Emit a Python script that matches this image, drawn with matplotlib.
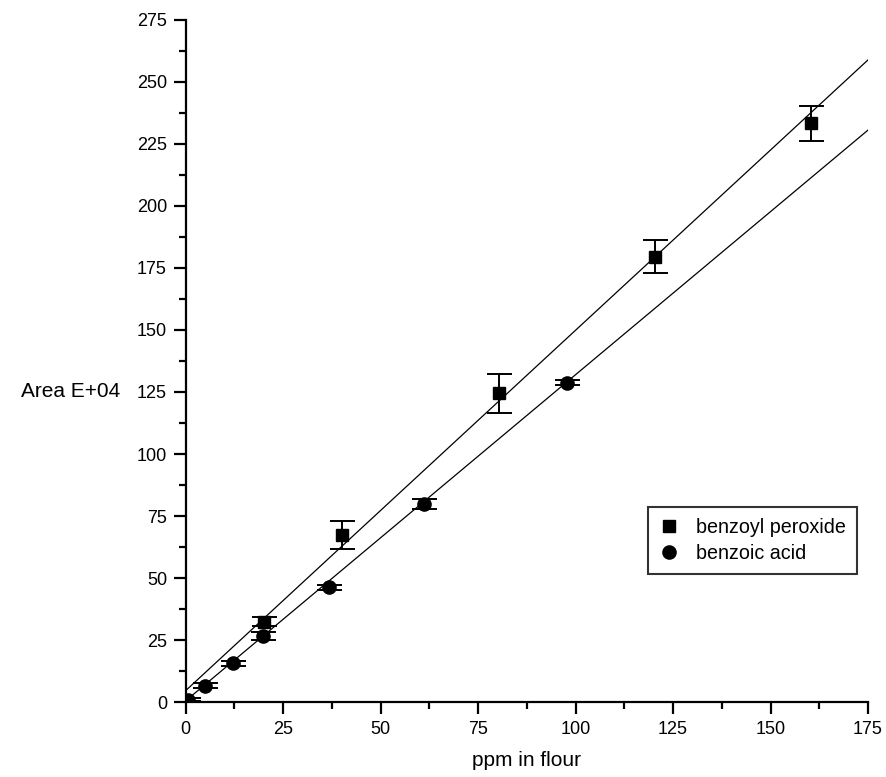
import matplotlib
matplotlib.use("Agg")
import matplotlib.pyplot as plt
from matplotlib.ticker import MultipleLocator

matplotlib.rcParams["font.family"] = ["Liberation Sans", "DejaVu Sans"]

# 数据 - benzoyl peroxide (方块)
bp_x = [20, 40.2, 80.4, 120.4, 160.5]
bp_y = [32.4, 67.3, 124.5, 179.6, 233.3]
bp_err = [1.7, 5.5, 7.8, 6.7, 7.0]

# 数据 - benzoic acid (圆点)
ba_x = [0.7, 5.0, 12.1, 19.7, 36.8, 61.1, 97.7]
ba_y = [1.0, 6.5, 15.6, 26.6, 46.2, 79.8, 128.8]
ba_err = [0.5, 1.0, 1.0, 1.7, 1.0, 1.9, 1.0]

# 拟合直线端点
fit_x = [0, 175]
bp_fit = [4.6, 258.9]
ba_fit = [0.5, 230.6]

fig = plt.figure(figsize=(8.86, 7.77), dpi=100)
ax = fig.add_axes([0.2096, 0.0965, 0.7701, 0.8778])

ax.plot(fit_x, bp_fit, color="black", lw=0.9)
ax.plot(fit_x, ba_fit, color="black", lw=0.9)

ax.errorbar(bp_x, bp_y, yerr=bp_err, fmt="none", ecolor="black",
            elinewidth=1.4, capsize=9, capthick=1.4)
ax.errorbar(ba_x, ba_y, yerr=ba_err, fmt="none", ecolor="black",
            elinewidth=1.4, capsize=9, capthick=1.4)
ax.plot(bp_x, bp_y, "s", color="black", ms=9, label="benzoyl peroxide")
ax.plot(ba_x, ba_y, "o", color="black", ms=9.5, label="benzoic acid")

ax.set_xlim(0, 175)
ax.set_ylim(0, 275)
ax.xaxis.set_major_locator(MultipleLocator(25))
ax.xaxis.set_minor_locator(MultipleLocator(12.5))
ax.yaxis.set_major_locator(MultipleLocator(25))
ax.yaxis.set_minor_locator(MultipleLocator(12.5))

for s in ["top", "right"]:
    ax.spines[s].set_visible(False)
for s in ["left", "bottom"]:
    ax.spines[s].set_linewidth(1.6)

ax.tick_params(which="major", direction="out", length=8.5, width=1.6,
               labelsize=13, pad=5)
ax.tick_params(which="minor", direction="out", length=5, width=1.6)

ax.set_xlabel("ppm in flour", fontsize=15)
ax.xaxis.set_label_coords(0.5, -0.072)
ax.set_ylabel("Area E+04", fontsize=15, rotation=0, ha="right", va="center")
ax.yaxis.set_label_coords(-0.096, 0.455)

leg = ax.legend(loc="upper right", bbox_to_anchor=(0.984, 0.286),
                fontsize=14.2, frameon=True, fancybox=False,
                handlelength=1.0, handletextpad=0.9, labelspacing=0.35,
                borderpad=0.55, borderaxespad=0)
leg.get_frame().set_edgecolor("black")
leg.get_frame().set_linewidth(1.5)

plt.savefig("out.png", dpi=100)
